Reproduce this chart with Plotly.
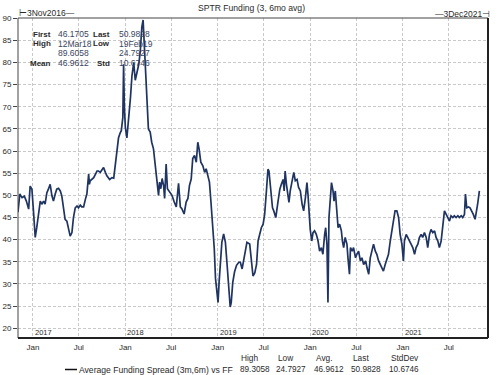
import plotly.graph_objects as go

# ---------------- data ----------------
dates = [
    "2016-11-03", "2016-11-10", "2016-11-19", "2016-11-28", "2016-12-06", "2016-12-15", "2016-12-21", "2016-12-28",
    "2017-01-03", "2017-01-10", "2017-01-16", "2017-01-23", "2017-01-30", "2017-02-05", "2017-02-12", "2017-02-18",
    "2017-02-25", "2017-03-03", "2017-03-10", "2017-03-17", "2017-03-23", "2017-03-30", "2017-04-05", "2017-04-12",
    "2017-04-19", "2017-04-25", "2017-05-02", "2017-05-08", "2017-05-15", "2017-05-22", "2017-05-28", "2017-06-04",
    "2017-06-10", "2017-06-17", "2017-06-24", "2017-06-30", "2017-07-07", "2017-07-13", "2017-07-20", "2017-07-27",
    "2017-08-02", "2017-08-09", "2017-08-12", "2017-08-15", "2017-08-22", "2017-08-29", "2017-09-11", "2017-09-17",
    "2017-09-24", "2017-10-07", "2017-10-14", "2017-10-20", "2017-10-31", "2017-11-09", "2017-11-16", "2017-11-22",
    "2017-11-29", "2017-12-05", "2017-12-12", "2017-12-16", "2017-12-22", "2017-12-25", "2017-12-28", "2018-01-01",
    "2018-01-07", "2018-01-14", "2018-01-21", "2018-01-27", "2018-02-03", "2018-02-09", "2018-02-16", "2018-02-23",
    "2018-03-01", "2018-03-07", "2018-03-12", "2018-03-20", "2018-03-27", "2018-04-02", "2018-04-09", "2018-04-15",
    "2018-04-22", "2018-04-29", "2018-05-05", "2018-05-12", "2018-05-16", "2018-05-21", "2018-05-26", "2018-06-01",
    "2018-06-05", "2018-06-11", "2018-06-16", "2018-06-24", "2018-07-04", "2018-07-13", "2018-07-21", "2018-07-30",
    "2018-08-06", "2018-08-12", "2018-08-21", "2018-08-29", "2018-09-05", "2018-09-11", "2018-09-18", "2018-09-24",
    "2018-10-01", "2018-10-08", "2018-10-14", "2018-10-19", "2018-10-26", "2018-11-03", "2018-11-10", "2018-11-16",
    "2018-11-23", "2018-11-29", "2018-12-05", "2018-12-11", "2018-12-18", "2018-12-23", "2018-12-28", "2019-01-02",
    "2019-01-06", "2019-01-11", "2019-01-17", "2019-01-24", "2019-01-31", "2019-02-06", "2019-02-13", "2019-02-19",
    "2019-02-23", "2019-03-01", "2019-03-08", "2019-03-16", "2019-03-25", "2019-03-31", "2019-04-07", "2019-04-13",
    "2019-04-20", "2019-04-26", "2019-05-07", "2019-05-14", "2019-05-20", "2019-05-27", "2019-06-03", "2019-06-09",
    "2019-06-16", "2019-06-22", "2019-06-29", "2019-07-05", "2019-07-12", "2019-07-18", "2019-07-22", "2019-07-28",
    "2019-08-05", "2019-08-10", "2019-08-18", "2019-08-27", "2019-09-03", "2019-09-09", "2019-09-16", "2019-09-20",
    "2019-09-24", "2019-09-29", "2019-10-05", "2019-10-09", "2019-10-14", "2019-10-21", "2019-10-28", "2019-11-03",
    "2019-11-10", "2019-11-16", "2019-11-23", "2019-11-30", "2019-12-06", "2019-12-13", "2019-12-19", "2019-12-23",
    "2019-12-27", "2020-01-01", "2020-01-07", "2020-01-12", "2020-01-18", "2020-01-25", "2020-02-01", "2020-02-07",
    "2020-02-14", "2020-02-20", "2020-02-27", "2020-03-02", "2020-03-07", "2020-03-11", "2020-03-15", "2020-03-20",
    "2020-03-25", "2020-03-31", "2020-04-04", "2020-04-09", "2020-04-16", "2020-04-20", "2020-04-26", "2020-05-03",
    "2020-05-07", "2020-05-12", "2020-05-18", "2020-05-25", "2020-05-29", "2020-06-04", "2020-06-08", "2020-06-15",
    "2020-06-20", "2020-06-28", "2020-07-03", "2020-07-10", "2020-07-17", "2020-07-23", "2020-07-30", "2020-08-07",
    "2020-08-12", "2020-08-19", "2020-08-25", "2020-09-01", "2020-09-07", "2020-09-14", "2020-09-20", "2020-09-27",
    "2020-10-03", "2020-10-10", "2020-10-16", "2020-10-23", "2020-10-30", "2020-11-05", "2020-11-12", "2020-11-18",
    "2020-11-25", "2020-12-01", "2020-12-08", "2020-12-15", "2020-12-21", "2020-12-28", "2021-01-03", "2021-01-07",
    "2021-01-14", "2021-01-20", "2021-01-27", "2021-02-03", "2021-02-09", "2021-02-16", "2021-02-22", "2021-03-01",
    "2021-03-07", "2021-03-14", "2021-03-20", "2021-03-27", "2021-04-03", "2021-04-09", "2021-04-16", "2021-04-22",
    "2021-04-29", "2021-05-06", "2021-05-12", "2021-05-19", "2021-05-25", "2021-06-01", "2021-06-07", "2021-06-14",
    "2021-06-21", "2021-06-27", "2021-07-04", "2021-07-10", "2021-07-17", "2021-07-23", "2021-07-30", "2021-08-06",
    "2021-08-12", "2021-08-19", "2021-08-25", "2021-09-01", "2021-09-05", "2021-09-10", "2021-09-17", "2021-09-23",
    "2021-09-30", "2021-10-06", "2021-10-13", "2021-10-17", "2021-10-23", "2021-10-30",
]
spread = [
    46.2, 50.3, 49.5, 49.8, 48.7, 46.9, 52.1, 51.4,
    46.5, 40.5, 42.7, 45.7, 48.7, 48.0, 48.7, 48.0,
    50.6, 51.4, 52.5, 49.9, 48.7, 50.3, 51.4, 51.6,
    51.0, 49.9, 47.2, 44.6, 44.2, 42.0, 40.8, 41.6,
    45.0, 47.2, 47.6, 47.2, 47.8, 47.4, 47.4, 49.1,
    50.3, 54.8, 52.5, 53.3, 53.6, 54.0, 55.5, 55.5,
    55.2, 56.3, 55.2, 54.4, 53.6, 54.0, 53.9, 57.0,
    60.0, 63.0, 64.2, 64.6, 67.6, 79.6, 70.0, 65.3,
    63.0, 66.8, 72.0, 77.0, 80.0, 76.0, 77.7, 79.6,
    82.6, 88.0, 89.6, 79.4, 70.3, 65.0, 64.3, 62.0,
    60.5, 56.7, 54.5, 50.0, 53.0, 51.5, 53.8, 52.2,
    49.3, 57.1, 51.5, 50.8, 50.0, 48.5, 47.4, 52.7,
    47.4, 47.0, 45.8, 48.5, 49.3, 52.2, 53.7, 58.3,
    59.0, 57.5, 62.0, 60.5, 57.5, 56.7, 55.2, 56.0,
    54.5, 53.0, 48.5, 44.0, 38.0, 31.2, 28.1, 25.8,
    30.3, 35.6, 39.4, 41.3, 39.4, 34.9, 30.3, 24.8,
    25.8, 30.3, 32.7, 34.2, 34.9, 34.9, 33.4, 35.6,
    37.9, 39.4, 39.0, 34.4, 31.8, 32.5, 34.4, 39.7,
    41.2, 42.7, 43.5, 45.7, 51.0, 55.9, 55.5, 51.8,
    47.2, 46.5, 45.0, 48.7, 51.4, 52.5, 53.6, 51.0,
    55.5, 52.5, 49.5, 48.4, 51.0, 53.3, 55.2, 53.3,
    53.6, 51.8, 51.0, 48.0, 46.5, 49.5, 52.9, 50.3,
    45.7, 42.3, 39.7, 41.6, 42.0, 41.2, 39.7, 37.4,
    38.2, 36.7, 41.2, 42.7, 39.0, 25.8, 45.0, 48.7,
    52.9, 51.0, 48.7, 51.0, 46.5, 42.7, 43.5, 42.0,
    39.7, 38.2, 40.5, 39.0, 35.9, 32.2, 38.2, 37.4,
    38.2, 35.9, 36.7, 37.4, 35.2, 35.9, 34.4, 35.2,
    33.7, 32.2, 35.9, 37.4, 39.0, 37.4, 36.7, 35.2,
    34.4, 33.7, 32.9, 34.4, 35.9, 36.7, 39.7, 42.0,
    45.0, 46.5, 46.5, 45.0, 41.2, 39.0, 35.2, 39.7,
    41.2, 40.5, 39.7, 39.0, 38.2, 36.7, 38.2, 39.0,
    40.5, 41.2, 40.5, 41.6, 40.5, 38.2, 41.2, 42.3,
    41.6, 42.0, 40.5, 39.7, 38.2, 39.7, 42.7, 46.5,
    45.7, 45.0, 44.2, 45.4, 45.0, 45.4, 45.0, 45.4,
    45.0, 45.4, 45.0, 45.7, 50.3, 47.2, 47.4, 47.2,
    46.5, 45.7, 44.6, 45.7, 48.0, 51.0,
]

series_name = "Average Funding Spread (3m,6m) vs FF"
chart_title = "SPTR Funding (3, 6mo avg)"
start_label = "⊢3Nov2016—"
end_label = "—3Dec2021⊣"

y_ticks = [20, 25, 30, 35, 40, 45, 50, 55, 60, 65, 70, 75, 80, 85, 90]
x_tick_dates = ["2017-01-01", "2017-07-01", "2018-01-01", "2018-07-01", "2019-01-01", "2019-07-01",
                "2020-01-01", "2020-07-01", "2021-01-01", "2021-07-01"]
x_tick_text = ["Jan", "Jul", "Jan", "Jul", "Jan", "Jul", "Jan", "Jul", "Jan", "Jul"]
year_dates = ["2017-01-01", "2018-01-01", "2019-01-01", "2020-01-01", "2021-01-01"]
year_labels = ["2017", "2018", "2019", "2020", "2021"]

# stats box (upper left inside the plot)
box_rows = [
    ("First", "46.1705", "Last", "50.9828"),
    ("High", "12Mar18", "Low", "19Feb19"),
    ("", "89.6058", "", "24.7927"),
    ("Mean", "46.9612", "Std", "10.6746"),
]
# legend statistics (bottom)
legend_headers = ["High", "Low", "Avg.", "Last", "StdDev"]
legend_values = ["89.3058", "24.7927", "46.9612", "50.9828", "10.6746"]

# ---------------- figure ----------------
LINE = "#1f3462"
TXT = "#2a2a2a"
FONT = "Liberation Sans, Arial, sans-serif"

fig = go.Figure()
fig.add_trace(go.Scatter(x=dates, y=spread, mode="lines", name=series_name,
                         line=dict(color=LINE, width=1.7), showlegend=False))

W, H = 500, 375
ML, MR, MT, MB = 18, 12, 18, 37
PW, PH = W - ML - MR, H - MT - MB


def px(xp):
    return (xp - ML) / PW


def py(yp):
    return (H - MB - yp) / PH


def note(xp, yp, text, anchor, size=8.5, color=TXT):
    return dict(x=px(xp), y=py(yp), xref="paper", yref="paper", text=text,
                xanchor=anchor, yanchor="middle", showarrow=False, borderpad=0,
                font=dict(size=size, color=color, family=FONT))


ann = []
# top labels
ann.append(note(18, 13, start_label, "left", size=8.5))
ann.append(note(251, 8, chart_title, "center", size=8.6))
ann.append(note(491, 14, end_label, "right", size=8.5))

# stats box
row_y = [34, 43.5, 53, 63]
for (l1, v1, l2, v2), yy in zip(box_rows, row_y):
    if l1:
        ann.append(note(51.5, yy, "<b>" + l1 + "</b>", "right", size=8))
    ann.append(note(56.5, yy, v1, "left", size=8.5, color="#3a4660"))
    if l2:
        ann.append(note(111, yy, "<b>" + l2 + "</b>", "right", size=8))
    ann.append(note(117.5, yy, v2, "left", size=8.5, color="#3a4660"))

# year labels inside plot bottom
for d, t in zip(year_dates, year_labels):
    ann.append(dict(x=d, xref="x", y=py(332.5), yref="paper", text=t, xanchor="left", yanchor="middle",
                    xshift=1, showarrow=False, borderpad=0, font=dict(size=7.5, color=TXT, family=FONT)))

# bottom legend
header_x = [240, 277, 315, 352, 390]
value_x = [239, 275, 313, 350, 388]
for hx, h in zip(header_x, legend_headers):
    ann.append(note(hx, 358, h, "left", size=8.3))
for vx, v in zip(value_x, legend_values):
    ann.append(note(vx, 369.5, v, "left", size=8.2))
ann.append(note(77.5, 369.5, series_name, "left", size=8.6))

shapes = [
    # legend line sample
    dict(type="line", xref="paper", yref="paper", x0=px(65), x1=px(77), y0=py(369.5), y1=py(369.5),
         line=dict(color="#111", width=1.5)),
    # frame
    dict(type="line", xref="paper", yref="paper", x0=0, x1=1, y0=1, y1=1, line=dict(color="#444", width=1)),
    dict(type="line", xref="paper", yref="paper", x0=0, x1=0, y0=0, y1=1, line=dict(color="#444", width=1)),
    dict(type="line", xref="paper", yref="paper", x0=1, x1=1, y0=0, y1=1, line=dict(color="#222", width=2)),
    dict(type="line", xref="paper", yref="paper", x0=0, x1=1, y0=0, y1=0, line=dict(color="#222", width=2)),
]

fig.update_layout(
    width=W, height=H,
    margin=dict(l=ML, r=MR, t=MT, b=MB, pad=0, autoexpand=False),
    paper_bgcolor="white", plot_bgcolor="white",
    font=dict(family=FONT, size=8, color=TXT),
    annotations=ann, shapes=shapes,
    xaxis=dict(type="date", range=["2016-11-03", "2021-12-03"], automargin=False,
               tickvals=x_tick_dates, ticktext=x_tick_text,
               showgrid=True, gridcolor="#c9c9c9", griddash="3px,2px", gridwidth=1,
               ticks="", showline=False, zeroline=False, ticklabelstandoff=3,
               tickfont=dict(size=8, color=TXT, family=FONT)),
    yaxis=dict(range=[17.8, 90.05], tickvals=y_ticks, automargin=False,
               showgrid=True, gridcolor="#c9c9c9", griddash="3px,2px", gridwidth=1,
               ticks="outside", ticklen=4, tickcolor="#444", tickwidth=1,
               showline=False, zeroline=False,
               tickfont=dict(size=8, color=TXT, family=FONT)),
)

fig.write_html("out.html", config={"displayModeBar": False},
               post_script="document.body.style.margin='0';document.body.style.overflow='hidden';")
